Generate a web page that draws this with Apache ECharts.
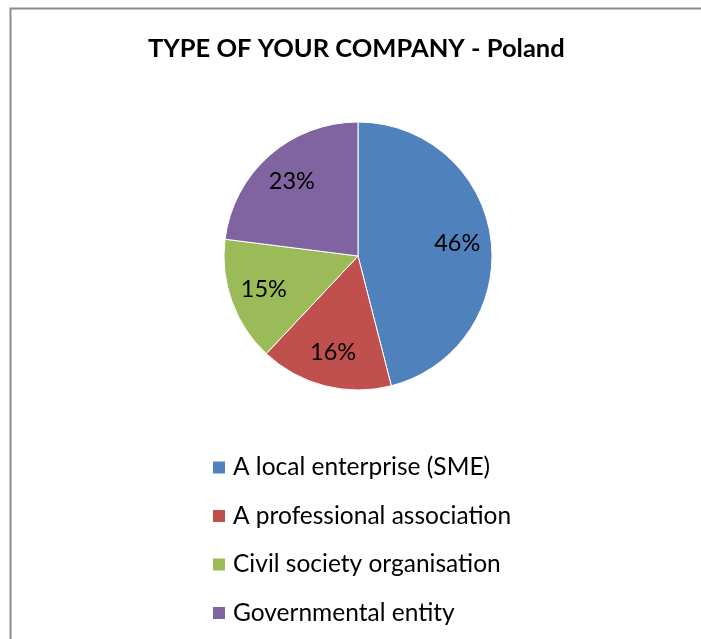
<!DOCTYPE html>
<html>
<head>
<meta charset="utf-8">
<script src="https://cdn.jsdelivr.net/npm/echarts@6/dist/echarts.min.js"></script>
<style>
  html, body { margin: 0; padding: 0; background: #fff; }
  #chart { width: 701px; height: 639px; }
</style>
</head>
<body>
<div id="chart"></div>
<script>
// Company types and their shares (%)
const categories = [
  'A local enterprise (SME)',
  'A professional association',
  'Civil society organisation',
  'Governmental entity'
];
const shares = [46, 16, 15, 23];
const colors = ['#4F81BD', '#C0504D', '#9BBB59', '#8064A2'];

const pieData = categories.map((name, i) => ({ name, value: shares[i] }));
const FONT = 'Lato, "Open Sans", sans-serif';
const center = [358, 256];

const chart = echarts.init(document.getElementById('chart'), null, { renderer: 'canvas' });
chart.setOption({
  animation: false,
  color: colors,
  title: {
    text: 'TYPE OF YOUR COMPANY - Poland',
    left: 143,
    top: 31,
    textStyle: { fontFamily: FONT, fontWeight: 'bold', fontSize: 25.5, color: '#000' }
  },
  legend: {
    orient: 'vertical',
    left: 206,
    top: 450,
    itemWidth: 14,
    itemHeight: 14,
    itemGap: 23.5,
    icon: 'rect',
    data: categories,
    textStyle: { fontFamily: FONT, fontSize: 24.5, color: '#000', padding: [0, 0, 0, 2] }
  },
  graphic: [{
    type: 'rect',
    shape: { x: 10.5, y: 8.5, width: 720, height: 660 },
    style: { fill: null, stroke: '#8c8c8c', lineWidth: 2 },
    silent: true,
    z: -1
  }],
  series: [
    {
      // visible slices
      type: 'pie',
      center: center,
      radius: [0, 134],
      startAngle: 90,
      clockwise: true,
      data: pieData,
      label: { show: false },
      labelLine: { show: false },
      itemStyle: { borderColor: '#fff', borderWidth: 1 },
      emphasis: { disabled: true }
    },
    {
      // transparent ring carrying the percentage labels
      type: 'pie',
      center: center,
      radius: [0, 194],
      startAngle: 90,
      clockwise: true,
      silent: true,
      data: pieData,
      itemStyle: { color: 'rgba(0,0,0,0)' },
      label: {
        show: true,
        position: 'inside',
        formatter: p => p.value + '%',
        fontFamily: FONT,
        fontSize: 23.5,
        color: '#000'
      },
      labelLine: { show: false },
      emphasis: { disabled: true }
    }
  ]
});
</script>
</body>
</html>
